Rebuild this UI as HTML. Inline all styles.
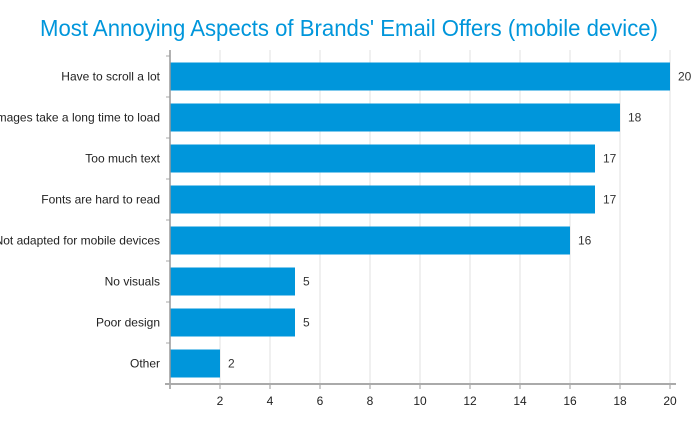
<!DOCTYPE html>
<html><head><meta charset="utf-8"><style>
body{margin:0;background:#fff;width:698px;height:423px;overflow:hidden}
text{font-family:"Liberation Sans Narrow","Liberation Sans",sans-serif}
</style></head><body>
<svg id="c" width="698" height="423">
<text x="349" y="36" text-anchor="middle" font-size="23" textLength="618" lengthAdjust="spacingAndGlyphs" fill="#0096db">Most Annoying Aspects of Brands' Email Offers (mobile device)</text>
</svg>
<script>
const categories=["Have to scroll a lot","Images take a long time to load","Too much text","Fonts are hard to read","Not adapted for mobile devices","No visuals","Poor design","Other"];
const values=[20,18,17,17,16,5,5,2];
const ticks=[2,4,6,8,10,12,14,16,18,20];
const svg=document.getElementById('c');
const NS='http://www.w3.org/2000/svg';
const x0=170,x1=670,maxV=20,plotTop=56,step=41,bh=28,axisY=384;
const xs=v=>x0+(x1-x0)*v/maxV;
const yc=i=>plotTop+step*i+(step-bh)/2;
function mk(t,a){const e=document.createElementNS(NS,t);for(const k in a)e.setAttribute(k,a[k]);svg.appendChild(e);return e;}
ticks.forEach(t=>{
 const g=mk('line',{x1:xs(t),x2:xs(t),y1:50,y2:axisY,stroke:'#e2e2e2','stroke-width':1});
 
 
 const tm=mk('line',{x1:xs(t),x2:xs(t),y1:axisY,y2:axisY+5,stroke:'#999'});
 
 
 const l=mk('text',{x:xs(t),y:405,'text-anchor':'middle','font-size':12,fill:'#222'});
 l.textContent=t;
 
 
});
categories.forEach((c,i)=>{
 const y=yc(i);
 const r=mk('rect',{x:x0,y:y,width:xs(values[i])-x0,height:bh,fill:'#0096db'});
 
 
 const v=mk('text',{x:xs(values[i])+8,y:y+bh/2+4,'font-size':12,fill:'#333'});
 v.textContent=values[i];
 
 
 const l=mk('text',{x:160,y:y+bh/2+4,'text-anchor':'end','font-size':12,fill:'#222'});
 l.textContent=c;
 
 
 const tk=mk('line',{x1:166,x2:170,y1:plotTop+step*i,y2:plotTop+step*i,stroke:'#aaa'});
 
 
});
const ya=mk('line',{x1:x0,x2:x0,y1:50,y2:axisY+5,stroke:'#999','stroke-width':1.5});


const xa=mk('line',{x1:165,x2:676,y1:axisY,y2:axisY,stroke:'#aaa','stroke-width':2});


</script>
</body></html>
